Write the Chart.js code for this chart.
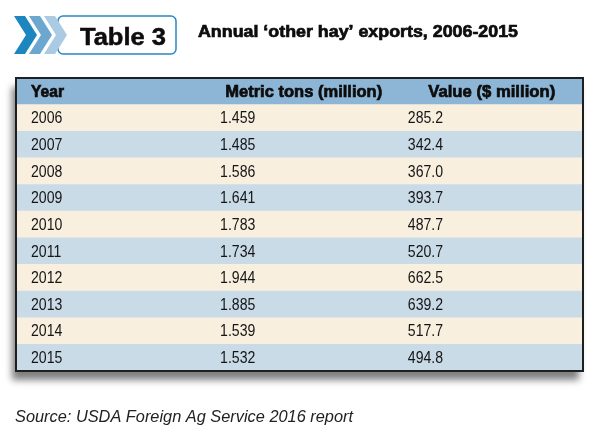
<!DOCTYPE html>
<html>
<head>
<meta charset="utf-8">
<title>Table 3 - Annual other hay exports</title>
<script src="https://cdn.jsdelivr.net/npm/chart.js@4/dist/chart.umd.min.js"></script>
<style>
    html, body { margin: 0; padding: 0; background: #ffffff; }
    #tableWrap { position: relative; width: 610px; height: 443px; }
</style>
</head>
<body>
<div id="tableWrap">
    <canvas id="tableChart" width="610" height="443"></canvas>
</div>
<script>
// Data
var headers = ['Year', 'Metric tons (million)', 'Value ($ million)'];
var years = ['2006', '2007', '2008', '2009', '2010', '2011', '2012', '2013', '2014', '2015'];
var metricTons = ['1.459', '1.485', '1.586', '1.641', '1.783', '1.734', '1.944', '1.885', '1.539', '1.532'];
var valueMillion = ['285.2', '342.4', '367.0', '393.7', '487.7', '520.7', '662.5', '639.2', '517.7', '494.8'];
var titleText = 'Annual \u2018other hay\u2019 exports, 2006-2015';
var badgeText = 'Table 3';
var sourceText = 'Source: USDA Foreign Ag Service 2016 report';

const TableChart = {
    // colours
    headerColor: '#8cb5d6',
    creamColor: '#f9efdf',
    blueColor: '#cadbe8',
    chevronColors: ['#1b87be', '#6ca7d0', '#abcae4'],

    // column anchors on the 0..1 x scale (header, body)
    headerCols: [0.0265, 0.369, 0.727],
    bodyCols: [0.0265, 0.36, 0.691],
    // header label widths in the original (condensed type)
    headerWidths: [33, 157, 127],
    bodySquash: 0.88,

    // draw text squeezed horizontally (condensed look), optional outline for heavy weight
    squeezeText: function(c, text, x, y, sx, heavy) {
        c.save();
        c.translate(x, y);
        c.scale(sx, 1);
        c.fillText(text, 0, 0);
        if (heavy) {
            c.lineWidth = heavy;
            c.strokeStyle = c.fillStyle;
            c.strokeText(text, 0, 0);
        }
        c.restore();
    },

    fitText: function(c, text, x, y, width, heavy) {
        var w = c.measureText(text).width;
        this.squeezeText(c, text, x, y, width / w, heavy);
    },

    init: function() {
        var canvas = document.getElementById('tableChart');
        if (!canvas) return;
        var ctx = canvas.getContext('2d');
        var self = this;

        var rowLabels = [headers[0]].concat(years);
        var rowColors = rowLabels.map(function(l, i) {
            if (i === 0) return self.headerColor;
            return (i % 2 === 1) ? self.creamColor : self.blueColor;
        });

        var tablePlugin = {
            id: 'tableDecor',
            beforeDatasetsDraw: function(chart) {
                var a = chart.chartArea;
                var c = chart.ctx;
                c.save();
                c.shadowColor = 'rgba(0,0,0,0.5)';
                c.shadowBlur = 7;
                c.shadowOffsetX = -4;
                c.shadowOffsetY = 9;
                c.fillStyle = '#ffffff';
                c.fillRect(a.left, a.top, a.right - a.left, a.bottom - a.top);
                c.restore();
            },
            afterDatasetsDraw: function(chart) {
                var a = chart.chartArea;
                var c = chart.ctx;
                var xs = chart.scales.x;
                var ys = chart.scales.y;
                c.save();

                // border
                c.strokeStyle = '#1f1f1f';
                c.lineWidth = 2;
                c.strokeRect(a.left, a.top, a.right - a.left, a.bottom - a.top);

                // cell text
                c.fillStyle = '#0d0d0d';
                c.textBaseline = 'middle';
                c.textAlign = 'left';
                c.font = 'bold 17px "Liberation Sans", Arial, sans-serif';
                headers.forEach(function(h, j) {
                    self.fitText(c, h, xs.getPixelForValue(self.headerCols[j]), ys.getPixelForValue(0) + 1, self.headerWidths[j], 0.7);
                });
                c.font = '16px "Liberation Sans", Arial, sans-serif';
                c.fillStyle = '#151515';
                years.forEach(function(y, i) {
                    var py = ys.getPixelForValue(i + 1) + 1;
                    self.squeezeText(c, y, xs.getPixelForValue(self.bodyCols[0]), py, self.bodySquash);
                    self.squeezeText(c, metricTons[i], xs.getPixelForValue(self.bodyCols[1]), py, self.bodySquash);
                    self.squeezeText(c, valueMillion[i], xs.getPixelForValue(self.bodyCols[2]), py, self.bodySquash);
                });

                // badge: chevrons + rounded box
                c.textBaseline = 'alphabetic';
                c.lineWidth = 1.5;
                c.strokeStyle = '#2a86c3';
                c.fillStyle = '#ffffff';
                c.beginPath();
                c.roundRect(58, 16, 118, 38, 5);
                c.fill();
                c.stroke();
                self.chevronColors.forEach(function(col, k) {
                    var x0 = 14 + k * 15;
                    c.fillStyle = col;
                    c.beginPath();
                    c.moveTo(x0, 16);
                    c.lineTo(x0 + 11, 16);
                    c.lineTo(x0 + 23, 35);
                    c.lineTo(x0 + 11, 54);
                    c.lineTo(x0, 54);
                    c.lineTo(x0 + 12, 35);
                    c.closePath();
                    c.fill();
                });
                c.fillStyle = '#0d0d0d';
                c.font = 'bold 24px "Liberation Sans", Arial, sans-serif';
                self.fitText(c, badgeText, 80, 45, 86, 0.5);

                // title
                c.font = 'bold 17px "Liberation Sans", Arial, sans-serif';
                self.fitText(c, titleText, 198, 37, 320, 0.7);

                // source
                c.font = 'italic 16px "Liberation Sans", Arial, sans-serif';
                c.fillStyle = '#222222';
                self.fitText(c, sourceText, 15, 422, 338);
                c.restore();
            }
        };

        new Chart(ctx, {
            type: 'bar',
            data: {
                labels: rowLabels,
                datasets: [
                    {
                        label: 'rows',
                        data: rowLabels.map(function() { return 1; }),
                        backgroundColor: rowColors,
                        borderWidth: 0,
                        barPercentage: 1,
                        categoryPercentage: 1
                    }
                ]
            },
            options: {
                indexAxis: 'y',
                responsive: false,
                animation: false,
                devicePixelRatio: 1,
                layout: {
                    padding: { left: 16, right: 27, top: 78, bottom: 72 }
                },
                plugins: {
                    legend: { display: false },
                    tooltip: { enabled: false },
                    title: { display: false }
                },
                scales: {
                    x: { display: false, min: 0, max: 1 },
                    y: { display: false }
                }
            },
            plugins: [tablePlugin]
        });
    }
};

TableChart.init();
</script>
</body>
</html>
